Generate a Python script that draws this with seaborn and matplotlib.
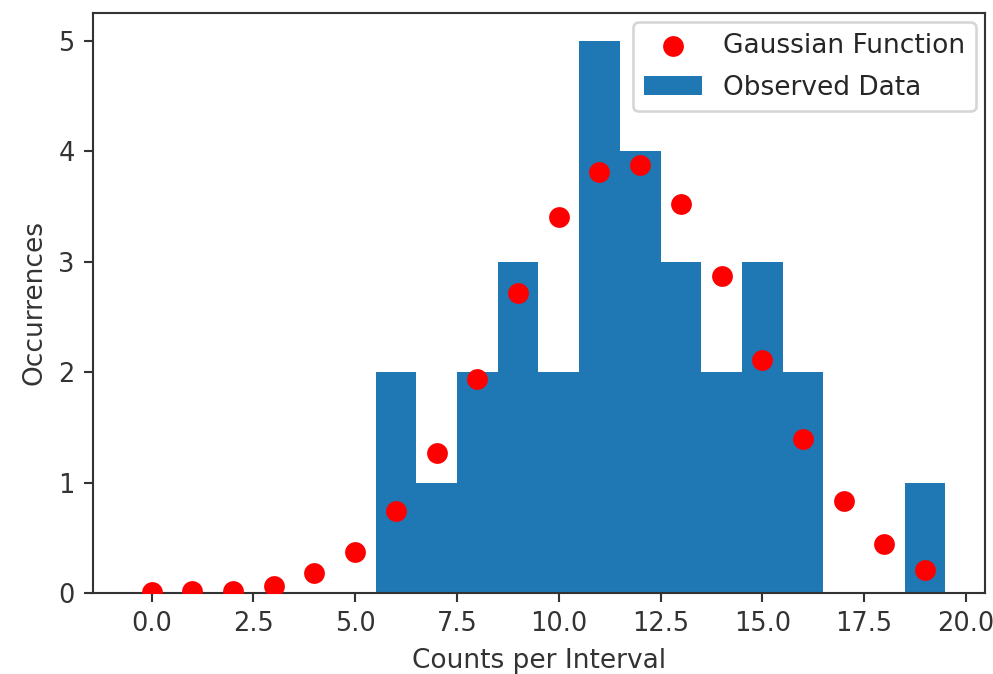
import numpy as np
import pandas as pd
import matplotlib
matplotlib.use("Agg")
import matplotlib.pyplot as plt
import seaborn as sns

# Observed histogram: counts per integer interval
count_values = [6, 7, 8, 9, 10, 11, 12, 13, 14, 15, 16, 17, 18, 19]
occurrences = [2, 1, 2, 3, 2, 5, 4, 3, 2, 3, 2, 0, 0, 1]

# Gaussian model evaluated at each integer count
gauss_x = list(range(20))
gauss_y = [0.005, 0.02, 0.02, 0.06, 0.18, 0.37, 0.74, 1.27, 1.94, 2.72,
           3.40, 3.81, 3.87, 3.52, 2.87, 2.11, 1.39, 0.83, 0.44, 0.21]

sns.set_style("ticks")
plt.rcParams["font.family"] = ["DejaVu Sans"]

dpi = 190
fig = plt.figure(figsize=(993 / dpi, 674 / dpi), dpi=dpi)
ax = fig.add_axes([0.0937, 0.1202, 0.9919 - 0.0937, 0.9807 - 0.1202])

hist_df = pd.DataFrame({"count": count_values, "occ": occurrences})
sns.histplot(data=hist_df, x="count", weights="occ", discrete=True,
             color="#1f77b4", alpha=1.0, linewidth=0, ax=ax,
             label="Observed Data")

gauss_df = pd.DataFrame({"x": gauss_x, "y": gauss_y})
sns.scatterplot(data=gauss_df, x="x", y="y", color="red", s=62,
                linewidth=0, ax=ax, label="Gaussian Function", zorder=3)

ax.set_xlim(-1.44, 20.47)
ax.set_ylim(0, 5.25)
ax.set_xticks([0, 2.5, 5, 7.5, 10, 12.5, 15, 17.5, 20])
ax.set_xticklabels(["0.0", "2.5", "5.0", "7.5", "10.0", "12.5", "15.0", "17.5", "20.0"])
ax.set_yticks([0, 1, 2, 3, 4, 5])
ax.set_xlabel("Counts per Interval", fontsize=10, color="#333333")
ax.set_ylabel("Occurrences", fontsize=10, color="#333333")
ax.tick_params(labelsize=9.7, length=3.5, width=0.8, color="#333333",
               labelcolor="#333333")
for sp in ax.spines.values():
    sp.set_visible(True)
    sp.set_linewidth(0.8)
    sp.set_color("#333333")

handles, labels = ax.get_legend_handles_labels()
order = [labels.index("Gaussian Function"), labels.index("Observed Data")]
ax.legend([handles[i] for i in order], [labels[i] for i in order],
          loc="upper right", fontsize=10, frameon=True,
          borderaxespad=0.35, labelspacing=0.6, handlelength=2.2)

fig.savefig("out.png", dpi=dpi)
